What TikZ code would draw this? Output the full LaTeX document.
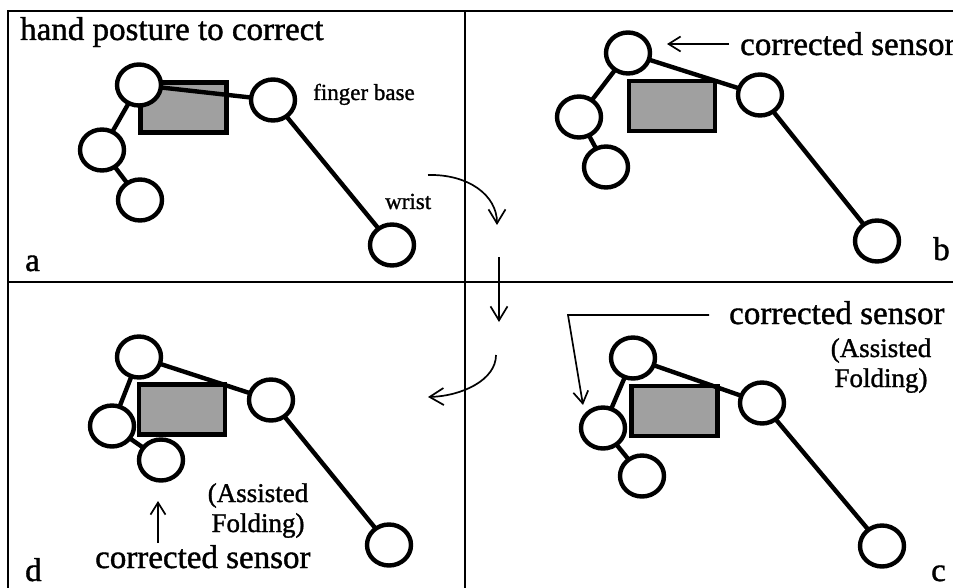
\documentclass[tikz,border=0pt]{standalone}
\usepackage{fontspec}
\setmainfont{Liberation Serif}[FakeBold=1.2]
\usetikzlibrary{arrows.meta,shapes.geometric}
\definecolor{palmgray}{HTML}{A0A0A0}
\begin{document}
\begin{tikzpicture}[x=1pt,y=-1pt,
  joint/.style={ellipse,draw,fill=white,line width=4.4pt,minimum width=44pt,minimum height=41pt,inner sep=0pt,outer sep=0pt},
  palm/.style={rectangle,draw,fill=palmgray,line width=4.4pt,minimum width=86pt,minimum height=50pt,inner sep=0pt,outer sep=0pt},
  bone/.style={line width=4.4pt},
  frameline/.style={line width=2pt},
  turn/.style={line width=1.7pt,-{Straight Barb[length=14pt,width=17pt,line width=1.7pt]}},
  pointer/.style={line width=1.7pt,-{Straight Barb[length=12pt,width=15pt,line width=1.7pt]}},
  bigtext/.style={inner sep=0pt,font=\fontsize{33}{40}\selectfont},
  smalltext/.style={inner sep=0pt,font=\fontsize{23}{28}\selectfont},
  notetext/.style={inner sep=0pt,align=center,font=\fontsize{27}{30}\selectfont},
]
\useasboundingbox (0,0) rectangle (953,588);
\clip (0,0) rectangle (953,588);
% frame
\draw[frameline] (8,600) -- (8,11) -- (970,11);
\draw[frameline] (465,11) -- (465,600);
\draw[frameline] (8,282) -- (970,282);

% ---- panel a
\node[palm] (pa) at (183.5,107.5) {};
\node[joint] (ta) at (139,85) {};
\node[joint] (fa) at (273,100) {};
\node[joint] (la) at (102,150) {};
\node[joint] (ba) at (140,200) {};
\node[joint] (wa) at (392,245) {};
\draw[bone] (ta) -- (fa);
\draw[bone] (ta) -- (la);
\draw[bone] (la) -- (ba);
\draw[bone] (fa) -- (wa);
\node[bigtext,anchor=base west] (title) at (20,40) {hand posture to correct};
\node[smalltext,anchor=base west] (fbase) at (313,100) {finger base};
\node[smalltext,anchor=base west] (wrist) at (385,209) {wrist};
\node[bigtext,anchor=base west] (lbla) at (25,271) {a};

% ---- panel b
\node[palm] (pb) at (672,106) {};
\node[joint] (tb) at (628,53) {};
\node[joint] (fb) at (760,95) {};
\node[joint] (lb) at (579,117) {};
\node[joint] (bb) at (606,167) {};
\node[joint] (wb) at (877,241) {};
\draw[bone] (tb) -- (fb);
\draw[bone] (tb) -- (lb);
\draw[bone] (lb) -- (bb);
\draw[bone] (fb) -- (wb);
\node[bigtext,anchor=base west] (csb) at (740,55) {corrected sensor};
\coordinate (pbs) at (729,44);
\coordinate (pbe) at (667,44);
\draw[pointer] (pbs) -- (pbe);
\node[bigtext,anchor=base west] (lblb) at (933,260) {b};

% ---- panel c
\node[palm] (pc) at (674.5,411) {};
\node[joint] (tc) at (633,358) {};
\node[joint] (fc) at (762,403) {};
\node[joint] (lc) at (603,428) {};
\node[joint] (bc) at (642,476) {};
\node[joint] (wc) at (882,546) {};
\draw[bone] (tc) -- (fc);
\draw[bone] (tc) -- (lc);
\draw[bone] (lc) -- (bc);
\draw[bone] (fc) -- (wc);
\node[bigtext,anchor=base west] (csc) at (729,324) {corrected sensor};
\node[notetext,anchor=base] (afc) at (881,387) {(Assisted\\Folding)};
\coordinate (pcs) at (709,315);
\coordinate (pcm) at (568,315);
\coordinate (pce) at (583,405);
\draw[pointer] (pcs) -- (pcm) -- (pce);
\node[bigtext,anchor=base west] (lblc) at (931,581) {c};

% ---- panel d
\node[palm] (pd) at (182,409.5) {};
\node[joint] (td) at (139,357) {};
\node[joint] (fd) at (271,400) {};
\node[joint] (ld) at (112,426) {};
\node[joint] (bd) at (161,460) {};
\node[joint] (wd) at (389,545) {};
\draw[bone] (td) -- (fd);
\draw[bone] (td) -- (ld);
\draw[bone] (ld) -- (bd);
\draw[bone] (fd) -- (wd);
\node[bigtext,anchor=base west] (csd) at (95,568) {corrected sensor};
\node[notetext,anchor=base] (afd) at (258,532) {(Assisted\\Folding)};
\coordinate (pds) at (158,543);
\coordinate (pde) at (158,501);
\draw[pointer] (pds) -- (pde);
\node[bigtext,anchor=base west] (lbld) at (25,581) {d};

% ---- transitions
\coordinate (s1) at (428,175);
\coordinate (e1) at (497,225);
\draw[turn] (s1) .. controls (468,174) and (497,195) .. (e1);
\coordinate (s2) at (499,257);
\coordinate (e2) at (499,322);
\draw[turn] (s2) -- (e2);
\coordinate (s3) at (496,355);
\coordinate (e3) at (428,397);
\draw[turn] (s3) .. controls (496,380) and (462,396) .. (e3);
\end{tikzpicture}
\end{document}
